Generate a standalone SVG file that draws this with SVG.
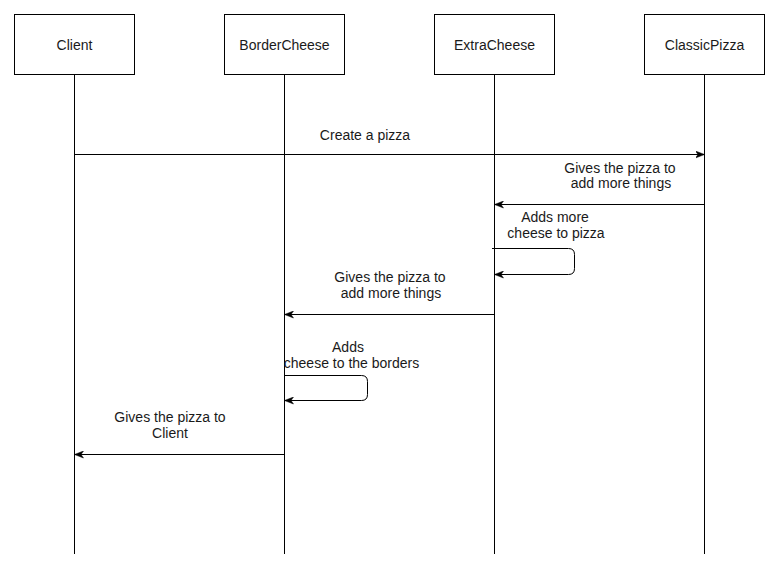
<svg xmlns="http://www.w3.org/2000/svg" width="772" height="563" viewBox="0 0 772 563">
<style>
  .box { fill: #ffffff; stroke: #000000; stroke-width: 1; }
  .life { stroke: #000000; stroke-width: 1; fill: none; }
  .msg { stroke: #000000; stroke-width: 1; fill: none; }
  text { font-family: "Liberation Sans", Arial, sans-serif; font-size: 14px; fill: #1a1a1a; text-anchor: middle; }
</style>
<defs>
  <marker id="arrow" markerWidth="10" markerHeight="8" refX="9" refY="4" orient="auto" markerUnits="userSpaceOnUse">
    <path d="M0,0.5 L9,4 L0,7.5 L2.5,4 Z" fill="#000000" stroke="#000000" stroke-width="0.5"/>
  </marker>
</defs>
<rect width="772" height="563" fill="#ffffff"/>
<g id="Client">
  <line class="life" x1="74.5" y1="74" x2="74.5" y2="554"/>
  <rect class="box" x="14.5" y="14.5" width="120" height="60"/>
  <text x="74.5" y="50">Client</text>
</g>
<g id="BorderCheese">
  <line class="life" x1="284.5" y1="74" x2="284.5" y2="554"/>
  <rect class="box" x="224.5" y="14.5" width="120" height="60"/>
  <text x="284.5" y="50">BorderCheese</text>
</g>
<g id="ExtraCheese">
  <line class="life" x1="494.5" y1="74" x2="494.5" y2="554"/>
  <rect class="box" x="434.5" y="14.5" width="120" height="60"/>
  <text x="494.5" y="50">ExtraCheese</text>
</g>
<g id="ClassicPizza">
  <line class="life" x1="704.5" y1="74" x2="704.5" y2="554"/>
  <rect class="box" x="644.5" y="14.5" width="120" height="60"/>
  <text x="704.5" y="50">ClassicPizza</text>
</g>
<g id="connectors">
  <path class="msg" d="M74.5,154.5 L704.5,154.5" marker-end="url(#arrow)"/>
  <path class="msg" d="M704.5,204.5 L494.5,204.5" marker-end="url(#arrow)"/>
  <path class="msg" d="M492,248.5 L568.5,248.5 Q574.5,248.5 574.5,254.5 L574.5,268.5 Q574.5,274.5 568.5,274.5 L494.5,274.5" marker-end="url(#arrow)"/>
  <path class="msg" d="M494.5,314.5 L284.5,314.5" marker-end="url(#arrow)"/>
  <path class="msg" d="M284.5,375.5 L361.5,375.5 Q367.5,375.5 367.5,381.5 L367.5,394.5 Q367.5,400.5 361.5,400.5 L284.5,400.5" marker-end="url(#arrow)"/>
  <path class="msg" d="M284.5,454.5 L74.5,454.5" marker-end="url(#arrow)"/>
</g>
<g id="labels">
  <text x="365" y="140">Create a pizza</text>
  <text x="620" y="173">Gives the pizza to</text>
  <text x="621" y="188">add more things</text>
  <text x="555" y="222">Adds more</text>
  <text x="556" y="238">cheese to pizza</text>
  <text x="390" y="282">Gives the pizza to</text>
  <text x="391" y="298">add more things</text>
  <text x="348" y="352">Adds</text>
  <text x="351.5" y="368">cheese to the borders</text>
  <text x="170" y="422">Gives the pizza to</text>
  <text x="170" y="438">Client</text>
</g>
</svg>
